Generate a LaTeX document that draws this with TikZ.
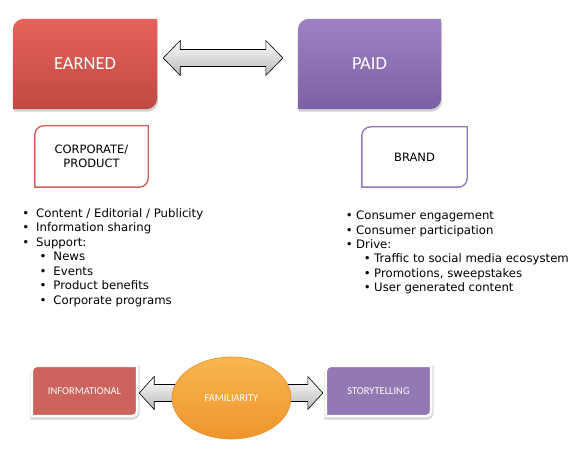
\documentclass[tikz,border=0pt]{standalone}
\usepackage{fontspec}
\setmainfont{DejaVu Sans}
\newfontfamily\carl{Carlito}
\usetikzlibrary{calc,shapes.geometric}
\pgfdeclarelayer{bg}
\pgfsetlayers{bg,main}
\definecolor{redA}{HTML}{E6625A}
\definecolor{redB}{HTML}{BF4A43}
\definecolor{purA}{HTML}{9E80C6}
\definecolor{purB}{HTML}{7C60A5}
\definecolor{redO}{HTML}{D0625C}
\definecolor{purO}{HTML}{9379BA}
\definecolor{infoC}{HTML}{CC635C}
\definecolor{storyC}{HTML}{9279B3}
\definecolor{orA}{HTML}{F9B650}
\definecolor{orB}{HTML}{EE952D}
\definecolor{orO}{HTML}{E58D2A}
% box with rounded top-left and bottom-right corners
\newcommand\tlbrshape[3]{%
  \path[#3] ($(#1.north west)+(0,#2)$)
     .. controls ($(#1.north west)+(0,0.45*#2)$) and ($(#1.north west)+(0.45*#2,0)$) .. ($(#1.north west)+(#2,0)$)
   -- (#1.north east) -- ($(#1.south east)+(0,-#2)$)
     .. controls ($(#1.south east)+(0,-0.45*#2)$) and ($(#1.south east)+(-0.45*#2,0)$) .. ($(#1.south east)+(-#2,0)$)
   -- (#1.south west) -- cycle;}
\newcommand\dblarrow[6]{% L R headlen headhalf shafthalf style
  \path[#6] (#1) -- ($(#1)+(#3,-#4)$) -- ($(#1)+(#3,-#5)$) -- ($(#2)+(-#3,-#5)$) -- ($(#2)+(-#3,-#4)$) -- (#2)
   -- ($(#2)+(-#3,#4)$) -- ($(#2)+(-#3,#5)$) -- ($(#1)+(#3,#5)$) -- ($(#1)+(#3,#4)$) -- cycle;}
\begin{document}
\begin{tikzpicture}[x=1pt,y=-1pt,
  bigbox/.style={minimum width=144pt, minimum height=90pt, inner sep=0pt, text=white, font=\carl\fontsize{18.5}{20}\selectfont},
  midbox/.style={minimum height=61pt, inner sep=0pt, align=center, font=\fontsize{11.5}{13.4}\selectfont},
  lowbox/.style={minimum width=105pt, minimum height=50pt, inner sep=0pt, text=white, font=\carl\fontsize{10.5}{12}\selectfont},
  item/.style={anchor=base west, inner sep=0pt, font=\fontsize{11.7}{14}\selectfont},
  arrowfill/.style={draw=black, line width=0.6pt, top color=white, bottom color=black!28, line join=miter}
]
\useasboundingbox (0,0) rectangle (584,454);

% top boxes
\node[bigbox] (earned) at (85,64) {EARNED};
\node[bigbox, minimum width=143pt] (paid) at (369.5,64) {PAID};
% middle boxes
\node[midbox, minimum width=113pt] (corp) at (91.5,156.5) {CORPORATE/\\PRODUCT};
\node[midbox, minimum width=105pt, minimum height=60pt] (brand) at (414.5,157) {BRAND};
% bottom
\node[lowbox] (info) at (84.5,391) {INFORMATIONAL};
\node[lowbox] (story) at (378.5,391) {STORYTELLING};

\begin{pgfonlayer}{bg}
  \begin{scope}[transform canvas={shift={(1,2.5)}}]
    \tlbrshape{earned}{11}{fill=black!30, opacity=0.6}
    \tlbrshape{paid}{11}{fill=black!30, opacity=0.6}
  \end{scope}
  \tlbrshape{earned}{11}{top color=redA, bottom color=redB}
  \tlbrshape{paid}{11}{top color=purA, bottom color=purB}
  \tlbrshape{corp}{9}{draw=redO, line width=1.4pt, fill=white}
  \tlbrshape{brand}{9}{draw=purO, line width=1.4pt, fill=white}
  \begin{scope}[transform canvas={shift={(0.5,1.5)}}]
    \tlbrshape{info}{5}{draw=black!16, line width=4pt}
    \tlbrshape{story}{5}{draw=black!16, line width=4pt}
  \end{scope}
  \tlbrshape{info}{5}{fill=infoC, draw=white, line width=2.5pt}
  \tlbrshape{story}{5}{fill=storyC, draw=white, line width=2.5pt}
\end{pgfonlayer}

% top double arrow
\coordinate (tL) at ($(earned.east)+(6,-6)$);
\coordinate (tR) at ($(paid.west)+(-15,-6)$);
\dblarrow{tL}{tR}{17}{17.5}{8.5}{arrowfill}

% bottom double arrow behind ellipse
\coordinate (bL) at ($(info.east)+(2,2)$);
\coordinate (bR) at ($(story.west)+(-3,2)$);
\dblarrow{bL}{bR}{15}{16.5}{8.5}{arrowfill}

\node[ellipse, minimum width=119pt, minimum height=82pt, inner sep=0pt,
  draw=orO, line width=0.6pt, top color=orA, bottom color=orB, text=white,
  font=\carl\fontsize{10.5}{12}\selectfont] (fam) at (231.5,398) {FAMILIARITY};

% left list
\node[item] (l1) at (36,217.5) {\llap{\textbullet\hspace{7pt}}Content / Editorial / Publicity};
\node[item] (l2) at (36,232) {\llap{\textbullet\hspace{7pt}}Information sharing};
\node[item] (l3) at (36,246.4) {\llap{\textbullet\hspace{7pt}}Support:};
\node[item] (l4) at (53.3,260.9) {\llap{\textbullet\hspace{7pt}}News};
\node[item] (l5) at (53.3,275.3) {\llap{\textbullet\hspace{7pt}}Events};
\node[item] (l6) at (53.3,289.8) {\llap{\textbullet\hspace{7pt}}Product benefits};
\node[item] (l7) at (53.3,304.2) {\llap{\textbullet\hspace{7pt}}Corporate programs};
% right list
\node[item] (r1) at (356,220) {\llap{\textbullet\hspace{3.5pt}}Consumer engagement};
\node[item] (r2) at (356,234.3) {\llap{\textbullet\hspace{3.5pt}}Consumer participation};
\node[item] (r3) at (356,248.6) {\llap{\textbullet\hspace{3.5pt}}Drive:};
\node[item] (r4) at (374,262.9) {\llap{\textbullet\hspace{3.5pt}}Traffic to social media ecosystem};
\node[item] (r5) at (374,277.2) {\llap{\textbullet\hspace{3.5pt}}Promotions, sweepstakes};
\node[item] (r6) at (374,291.5) {\llap{\textbullet\hspace{3.5pt}}User generated content};
\end{tikzpicture}
\end{document}
